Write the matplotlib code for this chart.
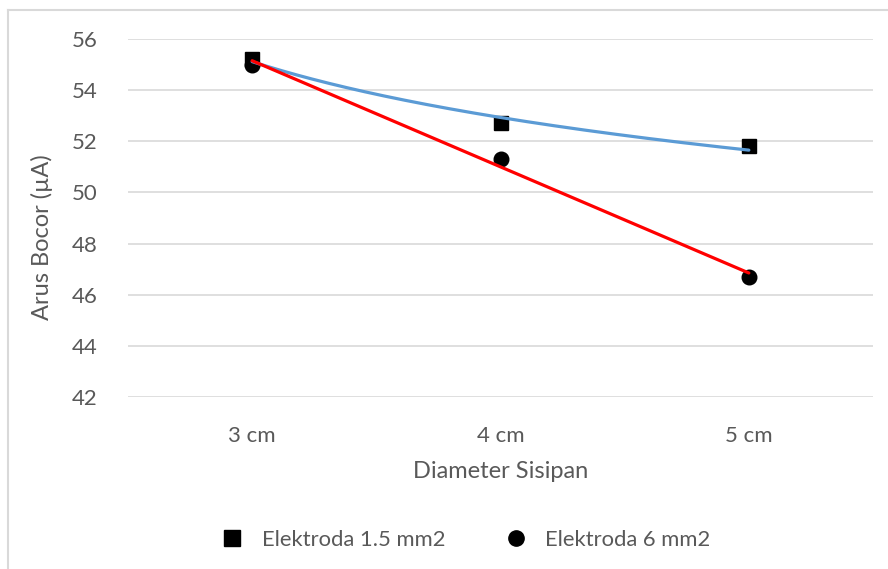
import numpy as np
import matplotlib
matplotlib.use("Agg")
import matplotlib.pyplot as plt
from matplotlib.lines import Line2D

plt.rcParams['font.family'] = ['Lato', 'DejaVu Sans']

categories = ['3 cm', '4 cm', '5 cm']
elektroda_15 = [55.2, 52.7, 51.8]
elektroda_6 = [55.0, 51.3, 46.7]
yticks = [42, 44, 46, 48, 50, 52, 54, 56]

text_color = '#595959'
grid_color = '#D9D9D9'

x = np.arange(1, len(categories) + 1)
xs = np.linspace(x[0], x[-1], 200)

# trendlines: logarithmic for 1.5 mm2, linear for 6 mm2
a, b = np.polyfit(np.log(x), elektroda_15, 1)
trend_15 = a * np.log(xs) + b
m, c = np.polyfit(x, elektroda_6, 1)
trend_6 = m * xs + c

fig = plt.figure(figsize=(8.88, 5.69), dpi=100)
ax = fig.add_axes([128 / 888, 1 - 397 / 569, 745 / 888, 358 / 569])

ax.plot(x, elektroda_15, linestyle='none', marker='s', markersize=10.5,
        color='black', zorder=3)
ax.plot(x, elektroda_6, linestyle='none', marker='o', markersize=10.5,
        color='black', zorder=3)
ax.plot(xs, trend_15, color='#5B9BD5', linewidth=2.3, zorder=4,
        solid_capstyle='round')
ax.plot(xs, trend_6, color='#FF0000', linewidth=2.3, zorder=4,
        solid_capstyle='round')

ax.set_xlim(0.5, len(categories) + 0.5)
ax.set_ylim(42, 56)
ax.set_xticks(x)
ax.set_xticklabels(categories)
ax.set_yticks(yticks)
ax.tick_params(axis='both', length=0, labelsize=16, colors=text_color)
ax.tick_params(axis='x', pad=21)
ax.tick_params(axis='y', pad=22)
ax.grid(axis='y', color=grid_color, linewidth=1.2)
ax.set_axisbelow(True)
for s in ax.spines.values():
    s.set_visible(False)

ax.set_xlabel('Diameter Sisipan', fontsize=17, color=text_color, labelpad=11)
ax.set_ylabel('Arus Bocor (µA)', fontsize=17, color=text_color,
              va='center')
ax.yaxis.set_label_coords(-86 / 745, 160 / 358)

handles = [
    Line2D([], [], linestyle='none', marker='s', markersize=11, color='black'),
    Line2D([], [], linestyle='none', marker='o', markersize=11, color='black'),
]
fig.legend(handles, ['Elektroda 1.5 mm2', 'Elektroda 6 mm2'],
           loc='center', bbox_to_anchor=(466 / 888, 1 - 540 / 569), ncol=2,
           frameon=False, fontsize=15.8, labelcolor=text_color,
           handletextpad=0.85, columnspacing=2.7, handlelength=1.0)

# chart frame
fig.add_artist(Line2D([7.5 / 888, 7.5 / 888], [0, 1 - 10 / 569],
                      transform=fig.transFigure, color=grid_color, linewidth=1.5))
fig.add_artist(Line2D([7.5 / 888, 1], [1 - 10 / 569, 1 - 10 / 569],
                      transform=fig.transFigure, color=grid_color, linewidth=1.5))

fig.savefig('out.png', dpi=100)
